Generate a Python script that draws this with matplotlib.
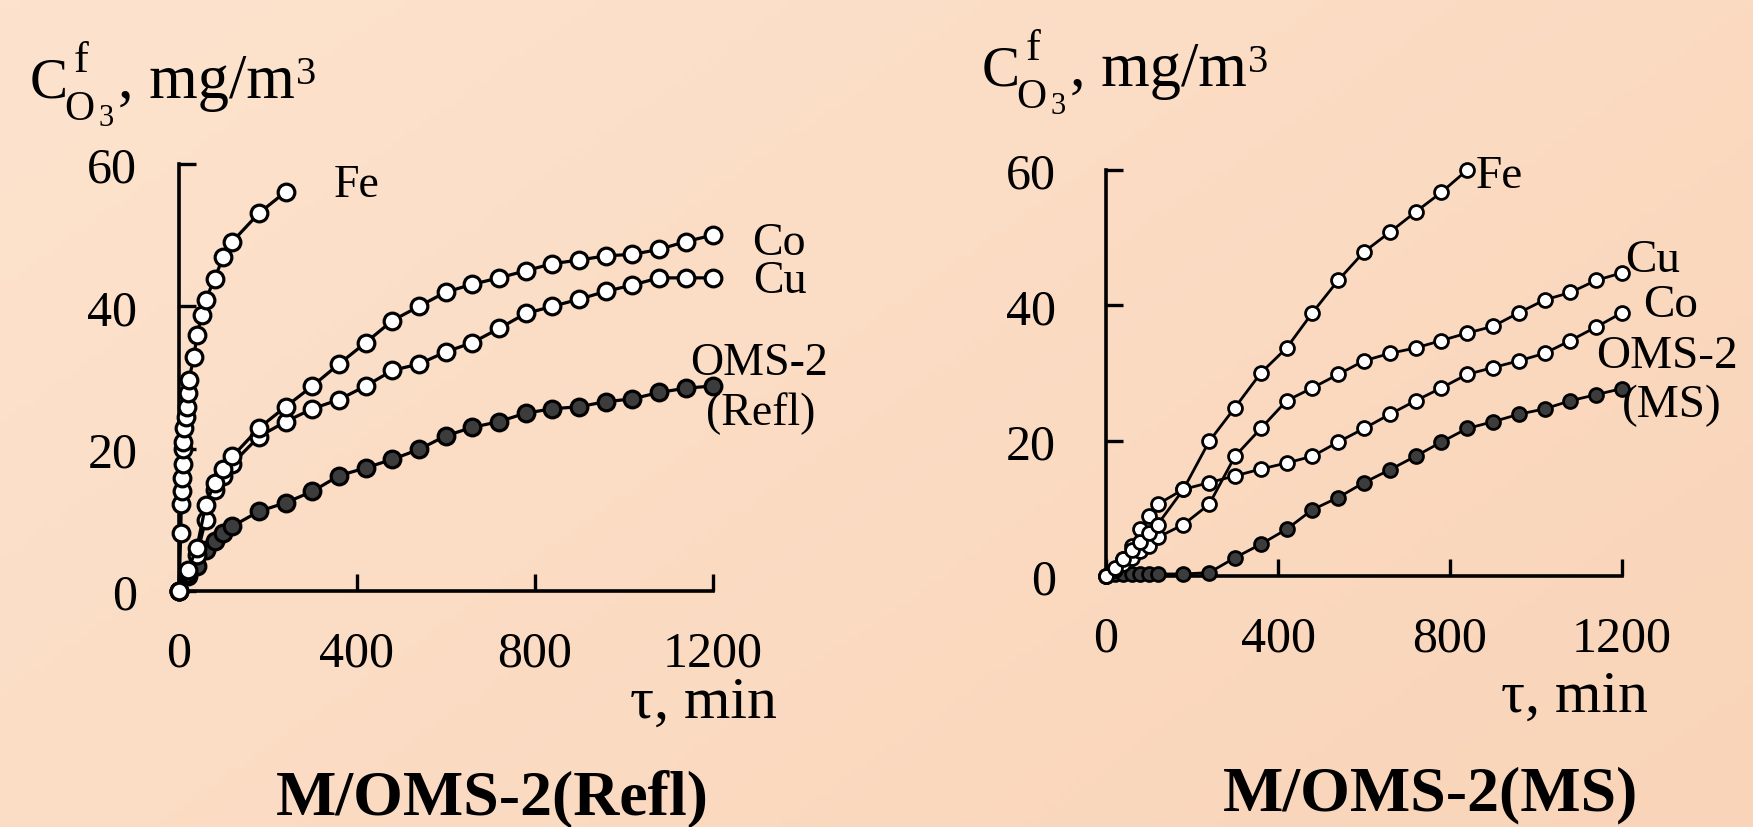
import matplotlib
matplotlib.use("Agg")
import matplotlib.pyplot as plt
import numpy as np
from matplotlib.colors import LinearSegmentedColormap

plt.rcParams['font.family'] = ['Liberation Serif', 'DejaVu Serif']

# ---------------- data: M/OMS-2(Refl) ----------------
refl_fe_t = [0, 4, 5, 6, 7, 8, 9, 10, 12, 15, 17, 20, 22, 34, 40, 52, 60, 80, 100, 120, 180, 240]
refl_fe_c = [0, 8.2, 12.2, 14.0, 15.9, 17.8, 19.9, 21.0, 22.9, 24.5, 25.9, 27.8, 29.7, 32.9, 36.0,
             38.8, 40.9, 43.9, 47.0, 49.1, 53.1, 56.1]

time_grid = [0, 20, 40, 60, 80, 100, 120, 180, 240, 300, 360, 420, 480, 540, 600, 660, 720,
             780, 840, 900, 960, 1020, 1080, 1140, 1200]

refl_co_c = [0, 3.0, 6.0, 12.1, 15.2, 17.1, 18.9, 22.9, 25.9, 28.8, 31.9, 34.9, 38.0, 40.0, 42.0,
             43.1, 44.0, 45.0, 46.0, 46.5, 47.1, 47.3, 48.0, 49.1, 50.0]
refl_cu_c = [0, 2.5, 5.0, 10.0, 14.2, 16.1, 17.9, 21.7, 23.8, 25.6, 26.9, 28.8, 31.0, 31.9, 33.6,
             34.9, 36.9, 39.0, 40.0, 41.0, 42.1, 43.0, 44.0, 44.0, 44.0]
refl_oms_c = [0, 2.1, 3.5, 5.8, 7.0, 8.2, 9.1, 11.2, 12.4, 14.0, 16.2, 17.3, 18.5, 19.9, 21.8,
              23.0, 23.8, 25.0, 25.6, 25.9, 26.6, 27.0, 27.9, 28.5, 28.8]

# ---------------- data: M/OMS-2(MS) ----------------
ms_fe_t = [0, 20, 40, 60, 80, 100, 120, 180, 240, 300, 360, 420, 480, 540, 600, 660, 720, 780, 840]
ms_fe_c = [0, 1.2, 2.5, 3.8, 5.0, 6.3, 7.6, 12.8, 19.9, 24.9, 30.0, 33.7, 38.9, 43.7, 47.9,
           50.8, 53.8, 56.7, 60.0]
ms_co_c = [0, 1.0, 2.5, 4.5, 6.9, 8.8, 10.6, 12.8, 13.8, 14.8, 15.8, 16.7, 17.7, 19.8, 21.8,
           23.9, 25.9, 27.8, 29.8, 30.8, 31.8, 32.9, 34.8, 36.8, 38.9]
ms_cu_c = [0, 0.9, 1.8, 2.7, 3.7, 4.4, 5.7, 7.6, 10.6, 17.7, 21.8, 25.9, 27.8, 29.8, 31.8,
           32.9, 33.7, 34.8, 35.9, 36.9, 38.9, 40.8, 41.9, 43.7, 44.8]
ms_oms_c = [0, 0.3, 0.3, 0.3, 0.3, 0.3, 0.3, 0.3, 0.5, 2.7, 4.7, 6.9, 9.8, 11.6, 13.8,
            15.7, 17.7, 19.8, 21.8, 22.8, 23.9, 24.7, 25.9, 26.8, 27.7]

x_ticks = [0, 400, 800, 1200]
y_ticks = [0, 20, 40, 60]
xlabel_txt = 'τ, min'

W, H = 1753, 828
fig = plt.figure(figsize=(W / 100, H / 100), dpi=100)

# background gradient
bg = fig.add_axes([0, 0, 1, 1], zorder=-10)
cmap = LinearSegmentedColormap.from_list('peach', ['#FDE3CE', '#F9D4B8'])
gx, gy = np.meshgrid(np.linspace(0, 1, 200), np.linspace(0, 1, 100))
bg.imshow(0.6 * gx + 0.4 * gy, cmap=cmap, aspect='auto', extent=[0, 1, 0, 1], origin='upper')
bg.set_axis_off()

def px(x, y):
    return x / W, 1 - y / H

def style_axes(ax, ypad):
    ax.set_facecolor('none')
    for s in ['top', 'right']:
        ax.spines[s].set_visible(False)
    for s in ['left', 'bottom']:
        ax.spines[s].set_linewidth(2.6)
    ax.set_xlim(0, 1200)
    ax.set_ylim(0, 60)
    ax.set_xticks(x_ticks)
    ax.set_yticks(y_ticks)
    ax.tick_params(axis='both', direction='in', length=12, width=2.4, labelsize=36)
    ax.tick_params(axis='y', pad=ypad)
    ax.tick_params(axis='x', pad=28)

def draw(ax, t, c, dark, ms, mew, lw):
    fc = '#3c3c3c' if dark else 'white'
    ax.plot(t, c, '-', color='black', lw=lw, marker='o', ms=ms, mfc=fc, mec='black',
            mew=mew, clip_on=False, zorder=3)

# ---------- left panel ----------
axL = fig.add_axes([179 / W, 1 - 592 / H, 533.5 / W, 427 / H])
style_axes(axL, 30)
draw(axL, time_grid, refl_oms_c, True, 12, 2.3, 2.3)
draw(axL, time_grid, refl_cu_c, False, 12, 2.3, 2.3)
draw(axL, time_grid, refl_co_c, False, 12, 2.3, 2.3)
draw(axL, refl_fe_t, refl_fe_c, False, 12, 2.3, 2.3)
lab_kw = dict(ha='left', va='baseline', fontsize=33)
axL.text(349, 55.5, 'Fe', **lab_kw)
axL.text(1290, 47.4, 'Co', **lab_kw)
axL.text(1292, 42.0, 'Cu', **lab_kw)
axL.text(1150, 30.5, 'OMS-2', **lab_kw)
axL.text(1185, 23.5, '(Refl)', **lab_kw)

# ---------- right panel ----------
axR = fig.add_axes([1106 / W, 1 - 577 / H, 516 / W, 406 / H])
style_axes(axR, 36)
draw(axR, time_grid, ms_oms_c, True, 10, 2.0, 2.0)
draw(axR, time_grid, ms_co_c, False, 10, 2.0, 2.0)
draw(axR, time_grid, ms_cu_c, False, 10, 2.0, 2.0)
draw(axR, ms_fe_t, ms_fe_c, False, 10, 2.0, 2.0)
lab_kw2 = dict(ha='left', va='baseline', fontsize=34)
axR.text(860, 57.5, 'Fe', **lab_kw2)
axR.text(1208, 45.1, 'Cu', **lab_kw2)
axR.text(1250, 38.4, 'Co', **lab_kw2)
axR.text(1140, 30.9, 'OMS-2', **lab_kw2)
axR.text(1200, 23.6, '(MS)', **lab_kw2)

# ---------- y-axis quantity labels, composed piecewise ----------
renderer = fig.canvas.get_renderer()

def put(x, y, s, size):
    t = fig.text(*px(x, y), s, ha='left', va='baseline', fontsize=size)
    bb = t.get_window_extent(renderer)
    return x + bb.width

def ylabel(x0, base):
    put(x0, base, 'C', 41)
    put(x0 + 44, base - 26, 'f', 32)
    put(x0 + 34, base + 22, 'O', 30)
    put(x0 + 69, base + 28, '3', 22)
    xm = put(x0 + 88, base, ', mg/m', 45)
    put(xm + 1, base - 14, '3', 29)

ylabel(30, 98)
ylabel(982, 86)

# x-axis labels
fig.text(*px(777, 718), xlabel_txt, ha='right', va='baseline', fontsize=43)
fig.text(*px(1648, 712), xlabel_txt, ha='right', va='baseline', fontsize=43)

# panel titles
fig.text(*px(492, 814), 'M/OMS-2(Refl)', ha='center', va='baseline', fontsize=46,
         fontweight='bold')
fig.text(*px(1431, 810), 'M/OMS-2(MS)', ha='center', va='baseline', fontsize=46,
         fontweight='bold')

fig.savefig('out.png', dpi=100)
